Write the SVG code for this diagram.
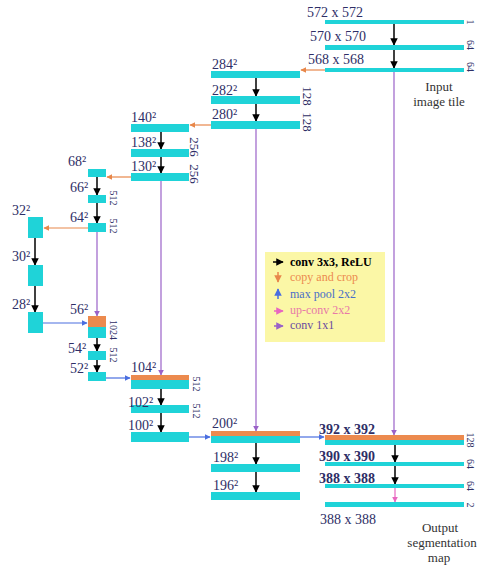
<svg xmlns="http://www.w3.org/2000/svg" width="480" height="565" viewBox="0 0 480 565">
<defs>
<marker id="hk" viewBox="0 0 10 10" refX="9" refY="5" markerWidth="5" markerHeight="5" orient="auto"><path d="M0,0 L10,5 L0,10 z" fill="#000"/></marker>
<marker id="ho" viewBox="0 0 10 10" refX="9" refY="5" markerWidth="5" markerHeight="5" orient="auto"><path d="M0,0 L10,5 L0,10 z" fill="#e8874a"/></marker>
<marker id="hb" viewBox="0 0 10 10" refX="9" refY="5" markerWidth="5" markerHeight="5" orient="auto"><path d="M0,0 L10,5 L0,10 z" fill="#4a6ee0"/></marker>
<marker id="hp" viewBox="0 0 10 10" refX="9" refY="5" markerWidth="5" markerHeight="5" orient="auto"><path d="M0,0 L10,5 L0,10 z" fill="#9a62c8"/></marker>
<marker id="hm" viewBox="0 0 10 10" refX="9" refY="5" markerWidth="5" markerHeight="5" orient="auto"><path d="M0,0 L10,5 L0,10 z" fill="#e866c0"/></marker>
</defs>
<style>
.c{fill:#1fd3d8}
.o{fill:#ec8a4e}
.t{font-family:"Liberation Serif","Times New Roman",serif;font-size:14px;fill:#2e2e66}
.b{font-weight:bold}
.r{font-family:"Liberation Serif","Times New Roman",serif;font-size:10px;fill:#2e2e66;text-anchor:middle}
.r2{font-size:13px}
.g{font-family:"Liberation Serif","Times New Roman",serif;font-size:13px;fill:#333;text-anchor:middle}
.k{stroke:#000;stroke-width:1.5;fill:none;marker-end:url(#hk)}
.ol{stroke:#e8874a;stroke-width:1.2;fill:none;marker-end:url(#ho)}
.bl{stroke:#4a6ee0;stroke-width:1.2;fill:none;marker-end:url(#hb)}
.pl{stroke:#9a62c8;stroke-width:1.2;fill:none;marker-end:url(#hp)}
.ml{stroke:#e866c0;stroke-width:1.2;fill:none;marker-end:url(#hm)}
.lg{font-family:"Liberation Serif","Times New Roman",serif;font-size:12px}
</style>

<g id="connectors">
<path class="k" d="M394,24 V45"/>
<path class="k" d="M394,50 V68"/>
<path class="pl" d="M394,72 V435"/>
<path class="ol" d="M325,70 H301"/>
<path class="k" d="M256,78 V96"/>
<path class="k" d="M256,104 V121"/>
<path class="pl" d="M256,129 V431"/>
<path class="ol" d="M211,125 H190"/>
<path class="k" d="M161,132 V149"/>
<path class="k" d="M161,157 V173"/>
<path class="pl" d="M161,181 V375"/>
<path class="ol" d="M131,177 H107"/>
<path class="k" d="M97,177 V195"/>
<path class="k" d="M97,203 V223"/>
<path class="pl" d="M97,232 V316"/>
<path class="ol" d="M88,228 H44"/>
<path class="k" d="M35,238 V265"/>
<path class="k" d="M35,286 V312"/>
<path class="bl" d="M43,323 H87"/>
<path class="k" d="M97,338 V351"/>
<path class="k" d="M97,360 V372"/>
<path class="bl" d="M106,378 H130"/>
<path class="k" d="M161,389 V405"/>
<path class="k" d="M161,413 V432"/>
<path class="bl" d="M189,437 H210"/>
<path class="k" d="M256,443 V464"/>
<path class="k" d="M256,472 V492"/>
<path class="bl" d="M300,437 H324"/>
<path class="k" d="M395,445 V462"/>
<path class="k" d="M395,466 V484"/>
<path class="ml" d="M395,488 V502"/>
</g>

<g id="n572"><rect class="c" x="325" y="20" width="139" height="4"/><text class="t" x="307" y="17">572 x 572</text><text class="r" transform="translate(467,22) rotate(90)">1</text></g>
<g id="n570"><rect class="c" x="325" y="45" width="139" height="5"/><text class="t" x="310" y="41">570 x 570</text><text class="r" transform="translate(467,45) rotate(90)">64</text></g>
<g id="n568"><rect class="c" x="325" y="68" width="139" height="4"/><text class="t" x="308" y="64">568 x 568</text><text class="r" transform="translate(467,67) rotate(90)">64</text></g>
<g id="input-label"><text class="g" x="439" y="91">Input</text><text class="g" x="439" y="106">image tile</text></g>

<g id="n284"><rect class="c" x="211" y="71" width="89" height="7"/><text class="t" x="212" y="69">284²</text></g>
<g id="n282"><rect class="c" x="211" y="96" width="89" height="8"/><text class="t" x="212" y="95">282²</text><text class="r r2" transform="translate(303,96) rotate(90)">128</text></g>
<g id="n280"><rect class="c" x="211" y="121" width="89" height="8"/><text class="t" x="212" y="119">280²</text><text class="r r2" transform="translate(303,122) rotate(90)">128</text></g>

<g id="n140"><rect class="c" x="131" y="124" width="58" height="8"/><text class="t" x="131" y="122">140²</text></g>
<g id="n138"><rect class="c" x="131" y="149" width="58" height="8"/><text class="t" x="131" y="147">138²</text><text class="r r2" transform="translate(190,147) rotate(90)">256</text></g>
<g id="n130"><rect class="c" x="131" y="173" width="58" height="8"/><text class="t" x="131" y="171">130²</text><text class="r r2" transform="translate(190,174) rotate(90)">256</text></g>

<g id="n68"><rect class="c" x="88" y="169" width="18" height="8"/><text class="t" x="68" y="166">68²</text></g>
<g id="n66"><rect class="c" x="88" y="195" width="18" height="8"/><text class="t" x="70" y="192">66²</text><text class="r" font-size="9" transform="translate(110,198) rotate(90)">512</text></g>
<g id="n64"><rect class="c" x="88" y="223" width="18" height="9"/><text class="t" x="70" y="222">64²</text><text class="r" font-size="9" transform="translate(110,226) rotate(90)">512</text></g>

<g id="n32"><rect class="c" x="28" y="217" width="15" height="21"/><text class="t" x="12" y="215">32²</text></g>
<g id="n30"><rect class="c" x="28" y="265" width="15" height="21"/><text class="t" x="12" y="261">30²</text></g>
<g id="n28"><rect class="c" x="28" y="312" width="15" height="21"/><text class="t" x="12" y="309">28²</text></g>

<g id="n56"><rect class="o" x="88" y="316" width="18" height="11"/><rect class="c" x="88" y="327" width="18" height="11"/><text class="t" x="70" y="314">56²</text><text class="r" font-size="9" transform="translate(110,330) rotate(90)">1024</text></g>
<g id="n54"><rect class="c" x="88" y="351" width="18" height="9"/><text class="t" x="68" y="353">54²</text><text class="r" font-size="9" transform="translate(110,355) rotate(90)">512</text></g>
<g id="n52"><rect class="c" x="88" y="372" width="18" height="9"/><text class="t" x="70" y="373">52²</text></g>

<g id="n104"><rect class="o" x="131" y="375" width="58" height="5"/><rect class="c" x="131" y="380" width="58" height="9"/><text class="t" x="131" y="372">104²</text><text class="r" transform="translate(193,384) rotate(90)">512</text></g>
<g id="n102"><rect class="c" x="131" y="405" width="58" height="8"/><text class="t" x="128" y="407">102²</text><text class="r" transform="translate(193,411) rotate(90)">512</text></g>
<g id="n100"><rect class="c" x="131" y="432" width="58" height="10"/><text class="t" x="128" y="430">100²</text></g>

<g id="n200"><rect class="o" x="211" y="431" width="89" height="5"/><rect class="c" x="211" y="436" width="89" height="7"/><text class="t" x="212" y="428">200²</text></g>
<g id="n198"><rect class="c" x="211" y="464" width="89" height="8"/><text class="t" x="213" y="462">198²</text></g>
<g id="n196"><rect class="c" x="211" y="492" width="89" height="8"/><text class="t" x="213" y="490">196²</text></g>

<g id="n392"><rect class="o" x="325" y="435" width="139" height="5"/><rect class="c" x="325" y="440" width="139" height="5"/><text class="t b" x="319" y="434" font-size="13">392 x 392</text><text class="r" font-size="9" transform="translate(467,440) rotate(90)">128</text></g>
<g id="n390"><rect class="c" x="325" y="462" width="139" height="4"/><text class="t b" x="319" y="461" font-size="13">390 x 390</text><text class="r" font-size="9" transform="translate(467,464) rotate(90)">64</text></g>
<g id="n388"><rect class="c" x="325" y="484" width="139" height="4"/><text class="t b" x="319" y="483" font-size="13">388 x 388</text><text class="r" font-size="9" transform="translate(467,486) rotate(90)">64</text></g>
<g id="nout"><rect class="c" x="325" y="502" width="139" height="5"/><text class="t" x="320" y="524" fill="#333" font-size="13">388 x 388</text><text class="r" font-size="9" transform="translate(467,505) rotate(90)">2</text></g>
<g id="output-label"><text class="g" x="440" y="532">Output</text><text class="g" x="442" y="547">segmentation</text><text class="g" x="439" y="562">map</text></g>

<g id="legend">
<rect x="265" y="252" width="120" height="90" fill="#fbf7a6"/>
<path d="M273,262 H283" stroke="#000" stroke-width="1.5" marker-end="url(#hk)"/>
<text class="lg" x="290" y="266" fill="#000" font-weight="bold">conv 3x3, ReLU</text>
<path d="M278,272 V282" stroke="#e8874a" stroke-width="1.5" marker-end="url(#ho)"/>
<text class="lg" x="290" y="281" fill="#ec8a4e">copy and crop</text>
<path d="M278,299 V289" stroke="#4a6ee0" stroke-width="1.5" marker-end="url(#hb)"/>
<text class="lg" x="290" y="298" fill="#4a6ec8">max pool 2x2</text>
<path d="M274,311 H283" stroke="#e866c0" stroke-width="1.5" marker-end="url(#hm)"/>
<text class="lg" x="290" y="314" fill="#e87aa8">up-conv 2x2</text>
<path d="M274,326 H283" stroke="#9a62c8" stroke-width="1.5" marker-end="url(#hp)"/>
<text class="lg" x="290" y="329" fill="#6a4aa0">conv 1x1</text>
</g>
</svg>
